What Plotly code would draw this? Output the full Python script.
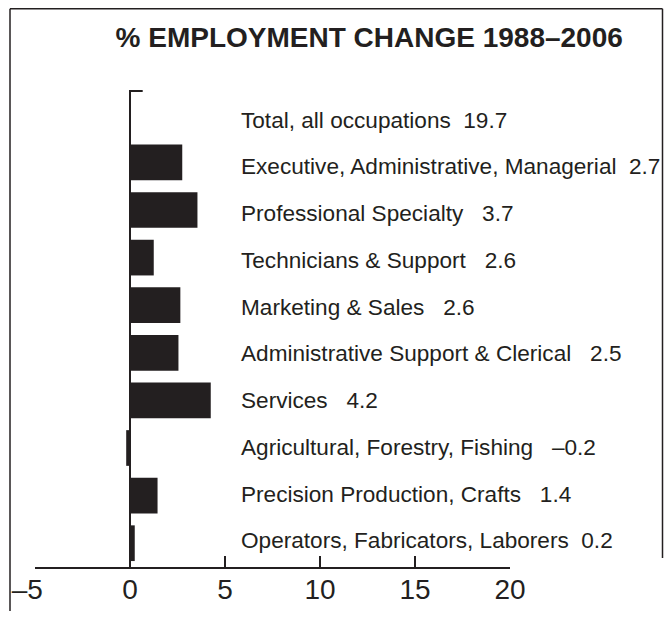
import plotly.graph_objects as go

# ---- data ----
categories = [
    "Total, all occupations",
    "Executive, Administrative, Managerial",
    "Professional Specialty",
    "Technicians & Support",
    "Marketing & Sales",
    "Administrative Support & Clerical",
    "Services",
    "Agricultural, Forestry, Fishing",
    "Precision Production, Crafts",
    "Operators, Fabricators, Laborers",
]
bar_values = [None, 2.75, 3.55, 1.25, 2.65, 2.55, 4.25, -0.2, 1.45, 0.25]
label_values = ["19.7", "2.7", "3.7", "2.6", "2.6", "2.5", "4.2", "\u20130.2", "1.4", "0.2"]
label_gaps = [2, 2, 3, 3, 3, 3, 3, 3, 3, 2]
tick_vals = [-5, 0, 5, 10, 15, 20]
tick_text = ["\u20135\u00a0\u00a0", "0", "5", "10", "15", "20"]
title_text = "% EMPLOYMENT CHANGE 1988\u20132006"

INK = "#231f20"
FONT = "Liberation Sans, Arial, Helvetica, sans-serif"

# page body has an 8px margin: figure is placed at (8, 8) in the window;
# keep the page from overflowing vertically (avoids scrollbars)
OFF = 8
WIN_W, WIN_H = 672, 619
W, H = WIN_W - OFF, WIN_H - 2 * OFF
ML, MT = 35 - OFF, 91 - OFF
MR, MB = WIN_W - 510, (WIN_H - OFF) - 567
PW = W - ML - MR
PH = H - MT - MB


def px_x(px):  # window pixel -> paper x
    return (px - OFF - ML) / PW


def px_y(py):  # window pixel -> paper y
    return (H - MB - (py - OFF)) / PH


fig = go.Figure()
fig.add_trace(go.Bar(
    y=categories,
    x=bar_values,
    orientation="h",
    marker=dict(color=INK, line=dict(width=0)),
    width=0.75,
    hoverinfo="skip",
    showlegend=False,
))

annotations = []
for i, (cat, val, gap) in enumerate(zip(categories, label_values, label_gaps)):
    annotations.append(dict(
        x=5.74, y=cat, xref="x", yref="y",
        text=cat + "\u00a0" * gap + val,
        showarrow=False, xanchor="left", yanchor="middle",
        font=dict(family=FONT, size=22.6, color=INK),
        yshift=-5.2 + 0.85 * i,
    ))

RIGHT_EDGE = 662.5  # the page clips the graph at x=664
shapes = [
    # frame (left, top, right)
    dict(type="line", xref="paper", yref="paper",
         x0=px_x(10), x1=px_x(10), y0=px_y(8.75), y1=px_y(640),
         line=dict(color=INK, width=1.5)),
    dict(type="line", xref="paper", yref="paper",
         x0=px_x(10), x1=px_x(RIGHT_EDGE), y0=px_y(8.75), y1=px_y(8.75),
         line=dict(color=INK, width=1.5)),
    dict(type="line", xref="paper", yref="paper",
         x0=px_x(RIGHT_EDGE), x1=px_x(RIGHT_EDGE), y0=px_y(8.75), y1=px_y(558),
         line=dict(color=INK, width=1.5)),
    # top tick of vertical axis
    dict(type="line", xref="paper", yref="paper",
         x0=0.2 - 1 / PW, x1=px_x(142.7), y0=1, y1=1,
         line=dict(color=INK, width=2)),
]

fig.update_layout(
    width=W, height=H,
    margin=dict(l=ML, r=MR, t=MT, b=MB, pad=0, autoexpand=False),
    paper_bgcolor="white", plot_bgcolor="white",
    title=dict(text=title_text, xref="container", yref="container",
               x=(369.2 - OFF) / W, y=1 - (37 - OFF) / H,
               xanchor="center", yanchor="middle",
               font=dict(family=FONT, size=28, color=INK, weight="bold")),
    xaxis=dict(range=[-5, 20], tickvals=tick_vals, ticktext=tick_text,
               showgrid=False, zeroline=False, showline=True,
               linecolor=INK, linewidth=2, ticks="inside", ticklen=11,
               tickwidth=2, tickcolor=INK, ticklabelstandoff=-4,
               tickfont=dict(family=FONT, size=28, color=INK),
               automargin=False, fixedrange=True),
    yaxis=dict(type="category", categoryorder="array", categoryarray=categories,
               range=[9.5, -0.5], autorange=False, showgrid=False,
               zeroline=False, showline=True, linecolor=INK, linewidth=2,
               showticklabels=False, ticks="", anchor="free", position=0.2,
               automargin=False, fixedrange=True),
    annotations=annotations,
    shapes=shapes,
    bargap=0.25,
)

fig.write_html("out.html")
